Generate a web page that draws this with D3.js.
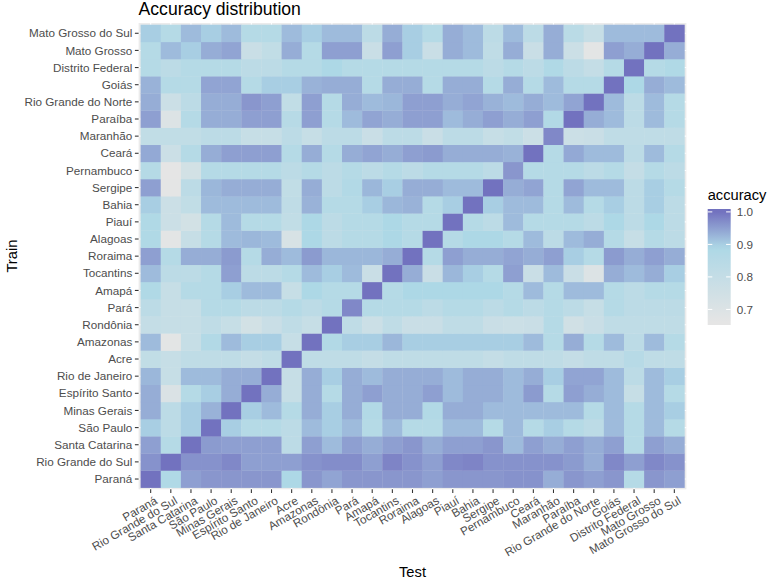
<!DOCTYPE html>
<html><head><meta charset="utf-8">
<script src="https://cdn.jsdelivr.net/npm/d3@7"></script>
<style>body{margin:0;background:#fff}svg{display:block;font-family:"Liberation Sans",Arial,sans-serif}</style>
</head><body><svg id="c" width="771" height="580"></svg>
<script>
// States in axis order (bottom-to-top for Train, left-to-right for Test)
const states = ["Paraná","Rio Grande do Sul","Santa Catarina","São Paulo","Minas Gerais","Espírito Santo","Rio de Janeiro","Acre","Amazonas","Rondônia","Pará","Amapá","Tocantins","Roraima","Alagoas","Piauí","Bahia","Sergipe","Pernambuco","Ceará","Maranhão","Paraíba","Rio Grande do Norte","Goiás","Distrito Federal","Mato Grosso","Mato Grosso do Sul"];
const legendTicks = [0.7, 0.8, 0.9, 1.0];

// accuracy per Train state, values over Test states in the order above
const trainParana = [1.0,0.88,0.95,0.96,0.96,0.96,0.96,0.89,0.96,0.945,0.96,0.96,0.96,0.96,0.95,0.96,0.96,0.96,0.965,0.965,0.935,0.96,0.95,0.96,0.86,0.96,0.95];
const trainRGdS = [0.965,1.0,0.965,0.965,0.975,0.95,0.95,0.95,0.965,0.97,0.97,0.95,0.98,0.965,0.95,0.975,0.98,0.965,0.965,0.965,0.965,0.955,0.935,0.975,0.95,0.975,0.965];
const trainSC = [0.95,0.86,1.0,0.955,0.95,0.95,0.95,0.83,0.95,0.92,0.95,0.935,0.95,0.96,0.935,0.95,0.95,0.96,0.92,0.95,0.935,0.95,0.935,0.95,0.86,0.95,0.935];
const trainSP = [0.90,0.83,0.90,1.0,0.90,0.86,0.86,0.83,0.92,0.90,0.92,0.86,0.92,0.86,0.86,0.92,0.92,0.86,0.92,0.86,0.90,0.86,0.83,0.92,0.86,0.92,0.86];
const trainMinas = [0.935,0.83,0.90,0.93,1.0,0.90,0.92,0.86,0.935,0.90,0.935,0.87,0.935,0.935,0.87,0.935,0.935,0.92,0.92,0.92,0.92,0.92,0.86,0.92,0.86,0.92,0.90];
const trainES = [0.935,0.71,0.86,0.90,0.935,1.0,0.935,0.79,0.935,0.86,0.935,0.95,0.935,0.935,0.95,0.92,0.935,0.935,0.92,0.955,0.86,0.95,0.935,0.92,0.79,0.92,0.86];
const trainRJ = [0.925,0.79,0.92,0.92,0.935,0.935,1.0,0.79,0.935,0.90,0.935,0.92,0.935,0.935,0.935,0.92,0.935,0.935,0.92,0.935,0.90,0.945,0.945,0.92,0.83,0.92,0.90];
const trainAcre = [0.81,0.79,0.82,0.82,0.82,0.80,0.82,1.0,0.82,0.82,0.82,0.80,0.82,0.82,0.82,0.82,0.82,0.80,0.82,0.82,0.82,0.80,0.82,0.82,0.85,0.82,0.82];
const trainAmazonas = [0.92,0.67,0.79,0.87,0.92,0.90,0.90,0.79,1.0,0.87,0.90,0.90,0.925,0.90,0.90,0.90,0.90,0.90,0.90,0.92,0.86,0.935,0.86,0.92,0.83,0.92,0.86];
const trainRondonia = [0.80,0.79,0.79,0.82,0.79,0.74,0.78,0.82,0.79,1.0,0.82,0.77,0.82,0.78,0.78,0.82,0.82,0.78,0.77,0.78,0.86,0.75,0.78,0.82,0.82,0.82,0.82];
const trainPara = [0.83,0.79,0.79,0.86,0.86,0.83,0.83,0.86,0.83,0.86,0.975,0.86,0.86,0.86,0.83,0.86,0.86,0.83,0.86,0.83,0.86,0.83,0.79,0.86,0.83,0.83,0.83];
const trainAmapa = [0.88,0.79,0.86,0.86,0.90,0.92,0.92,0.79,0.89,0.86,0.86,1.0,0.86,0.89,0.89,0.89,0.89,0.89,0.86,0.92,0.86,0.92,0.92,0.86,0.83,0.86,0.86];
const trainTocantins = [0.92,0.83,0.83,0.86,0.95,0.83,0.83,0.86,0.92,0.90,0.92,0.78,1.0,0.935,0.78,0.925,0.90,0.86,0.95,0.78,0.92,0.78,0.70,0.935,0.92,0.935,0.90];
const trainRoraima = [0.95,0.86,0.935,0.935,0.955,0.86,0.935,0.92,0.955,0.925,0.925,0.925,0.935,1.0,0.86,0.95,0.935,0.935,0.945,0.935,0.95,0.90,0.86,0.955,0.935,0.95,0.935];
const trainAlagoas = [0.88,0.67,0.79,0.86,0.92,0.925,0.92,0.72,0.89,0.83,0.86,0.86,0.89,0.86,1.0,0.86,0.89,0.89,0.86,0.92,0.83,0.92,0.935,0.86,0.79,0.86,0.83];
const trainPiaui = [0.88,0.77,0.74,0.86,0.92,0.86,0.86,0.81,0.89,0.83,0.86,0.86,0.89,0.86,0.86,1.0,0.86,0.83,0.92,0.86,0.86,0.86,0.83,0.89,0.83,0.89,0.83];
const trainBahia = [0.90,0.77,0.81,0.92,0.92,0.92,0.92,0.82,0.93,0.86,0.86,0.90,0.925,0.93,0.86,0.90,1.0,0.90,0.92,0.92,0.86,0.92,0.86,0.90,0.83,0.90,0.83];
const trainSergipe = [0.95,0.665,0.83,0.925,0.935,0.935,0.935,0.81,0.935,0.83,0.87,0.925,0.90,0.935,0.935,0.92,0.92,1.0,0.935,0.945,0.86,0.945,0.92,0.92,0.83,0.90,0.86];
const trainPernambuco = [0.86,0.661,0.74,0.86,0.86,0.86,0.86,0.83,0.86,0.83,0.86,0.83,0.86,0.83,0.86,0.86,0.86,0.83,0.96,0.86,0.86,0.86,0.83,0.86,0.80,0.86,0.83];
const trainCeara = [0.94,0.77,0.86,0.935,0.95,0.95,0.95,0.86,0.935,0.86,0.935,0.945,0.935,0.95,0.955,0.935,0.935,0.935,0.93,1.0,0.86,0.94,0.92,0.92,0.83,0.92,0.86];
const trainMaranhao = [0.81,0.81,0.81,0.83,0.83,0.79,0.79,0.83,0.79,0.83,0.83,0.78,0.83,0.83,0.78,0.83,0.83,0.79,0.81,0.77,0.975,0.77,0.78,0.82,0.82,0.82,0.82];
const trainParaiba = [0.95,0.70,0.86,0.935,0.935,0.95,0.95,0.85,0.95,0.86,0.92,0.945,0.935,0.95,0.95,0.92,0.935,0.95,0.935,0.95,0.87,1.0,0.935,0.92,0.83,0.92,0.86];
const trainRGdN = [0.935,0.77,0.83,0.935,0.935,0.96,0.95,0.81,0.95,0.86,0.935,0.92,0.925,0.95,0.95,0.935,0.945,0.93,0.92,0.935,0.92,0.945,1.0,0.92,0.83,0.92,0.86];
const trainGoias = [0.93,0.86,0.86,0.945,0.945,0.86,0.90,0.90,0.93,0.935,0.935,0.86,0.935,0.935,0.86,0.935,0.935,0.86,0.935,0.86,0.92,0.86,0.86,1.0,0.89,0.935,0.92];
const trainDF = [0.86,0.83,0.86,0.86,0.86,0.83,0.83,0.86,0.86,0.89,0.86,0.86,0.86,0.86,0.86,0.86,0.86,0.83,0.86,0.83,0.88,0.83,0.80,0.86,1.0,0.86,0.88];
const trainMT = [0.86,0.92,0.90,0.935,0.945,0.78,0.81,0.935,0.86,0.95,0.95,0.78,0.95,0.90,0.78,0.935,0.92,0.82,0.935,0.78,0.935,0.77,0.67,0.95,0.935,1.0,0.935];
const trainMTdS = [0.90,0.86,0.92,0.90,0.92,0.86,0.86,0.92,0.90,0.92,0.92,0.83,0.935,0.90,0.86,0.935,0.92,0.83,0.92,0.83,0.935,0.84,0.79,0.92,0.92,0.92,1.0];

const trainRows = [trainParana,trainRGdS,trainSC,trainSP,trainMinas,trainES,trainRJ,trainAcre,trainAmazonas,trainRondonia,trainPara,trainAmapa,trainTocantins,trainRoraima,trainAlagoas,trainPiaui,trainBahia,trainSergipe,trainPernambuco,trainCeara,trainMaranhao,trainParaiba,trainRGdN,trainGoias,trainDF,trainMT,trainMTdS];

const cells = [];
trainRows.forEach((row, i) => row.forEach((v, j) => cells.push({train: states[i], test: states[j], value: v})));

const svg = d3.select("#c");
const tx0 = 140.6, tx1 = 684.4, ty0 = 24.7, ty1 = 487.6;
const x = d3.scaleBand().domain(states).range([tx0, tx1]);
const y = d3.scaleBand().domain(states).range([ty1, ty0]);
const bw = x.bandwidth(), bh = y.bandwidth();
const px0 = tx0 - 0.1*bw, px1 = tx1 + 0.1*bw, py0 = ty0 - 0.1*bh, py1 = ty1 + 0.1*bh;

const vmin = d3.min(cells, d => d.value), vmax = d3.max(cells, d => d.value);
const color = d3.scaleLinear().domain([vmin, 0.89, vmax]).range(["#E5E5E5", "#ADD8E6", "#7272BF"]).interpolate(d3.interpolateLab).clamp(true);

// panel background + grid
svg.append("rect").attr("x", px0).attr("y", py0).attr("width", px1-px0).attr("height", py1-py0).attr("fill", "#EBEBEB");
states.forEach(s => {
  svg.append("line").attr("x1", x(s)+bw/2).attr("x2", x(s)+bw/2).attr("y1", py0).attr("y2", py1).attr("stroke", "#fff").attr("stroke-width", 1.07);
  svg.append("line").attr("y1", y(s)+bh/2).attr("y2", y(s)+bh/2).attr("x1", px0).attr("x2", px1).attr("stroke", "#fff").attr("stroke-width", 1.07);
});

svg.append("g").selectAll("rect").data(cells).join("rect")
  .attr("x", d => x(d.test)).attr("y", d => y(d.train))
  .attr("width", bw + 0.3).attr("height", bh + 0.3)
  .attr("fill", d => color(d.value));

// y axis
const ya = svg.append("g");
states.forEach(s => {
  const cy = y(s) + bh/2;
  ya.append("line").attr("x1", px0-3.7).attr("x2", px0).attr("y1", cy).attr("y2", cy).attr("stroke", "#333").attr("stroke-width", 1.07);
  ya.append("text").attr("x", px0-6.3).attr("y", cy).attr("dy", "0.35em").attr("text-anchor", "end")
    .attr("font-size", "11.7px").attr("fill", "#4D4D4D").text(s);
});
// x axis
const xa = svg.append("g");
states.forEach(s => {
  const cx = x(s) + bw/2;
  xa.append("line").attr("x1", cx).attr("x2", cx).attr("y1", py1).attr("y2", py1+3.7).attr("stroke", "#333").attr("stroke-width", 1.07);
  xa.append("text").attr("transform", `translate(${cx+3},${py1+6})rotate(-30)`).attr("dy", "0.75em").attr("text-anchor", "end")
    .attr("font-size", "11.7px").attr("fill", "#4D4D4D").text(s);
});

// titles
svg.append("text").attr("x", px0).attr("y", 14.5).attr("font-size", "17.6px").attr("fill", "#000").text("Accuracy distribution");
svg.append("text").attr("x", (px0+px1)/2).attr("y", 577).attr("text-anchor", "middle").attr("font-size", "14.7px").attr("fill", "#000").text("Test");
svg.append("text").attr("transform", `translate(17,${(py0+py1)/2})rotate(-90)`).attr("text-anchor", "middle").attr("font-size", "14.7px").attr("fill", "#000").text("Train");

// legend
const lx = 707.7, lw = 23, ly0 = 209, ly1 = 325;
const half = (ly1 - ly0) / 40;
const ls = d3.scaleLinear().domain([vmin, vmax]).range([ly1 - half, ly0 + half]);
const defs = svg.append("defs");
const grad = defs.append("linearGradient").attr("id", "lg").attr("x1", 0).attr("x2", 0).attr("y1", 1).attr("y2", 0);
d3.range(0, 21).forEach(i => {
  const v = vmin + (vmax - vmin) * i / 20;
  grad.append("stop").attr("offset", ((ls(v) - ly1) / (ly0 - ly1))).attr("stop-color", color(v));
});
svg.append("rect").attr("x", lx).attr("y", ly0).attr("width", lw).attr("height", ly1-ly0).attr("fill", "url(#lg)");
legendTicks.forEach(t => {
  const yy = ls(t);
  svg.append("line").attr("x1", lx).attr("x2", lx+lw/5).attr("y1", yy).attr("y2", yy).attr("stroke", "#fff").attr("stroke-width", 1);
  svg.append("line").attr("x1", lx+lw-lw/5).attr("x2", lx+lw).attr("y1", yy).attr("y2", yy).attr("stroke", "#fff").attr("stroke-width", 1);
  svg.append("text").attr("x", lx+lw+6).attr("y", yy).attr("dy", "0.35em").attr("font-size", "11.7px").attr("fill", "#4D4D4D").text(t.toFixed(1));
});
svg.append("text").attr("x", lx).attr("y", 200).attr("font-size", "14.7px").attr("fill", "#000").text("accuracy");
</script></body></html>
